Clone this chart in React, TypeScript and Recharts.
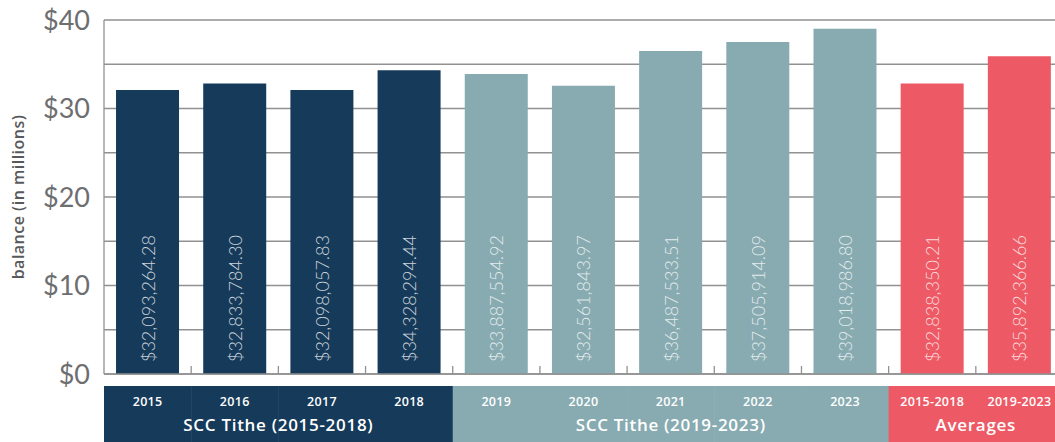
import { BarChart, Bar, XAxis, YAxis, CartesianGrid, Cell, LabelList } from 'recharts';

const categories = ['2015', '2016', '2017', '2018', '2019', '2020', '2021', '2022', '2023', '2015-2018', '2019-2023'];
const balances = [32.093, 32.834, 32.098, 34.328, 33.888, 32.562, 36.488, 37.506, 39.019, 32.838, 35.892];
const balanceLabels = [
  '$32,093,264.28',
  '$32,833,784.30',
  '$32,098,057.83',
  '$34,328,294.44',
  '$33,887,554.92',
  '$32,561,843.97',
  '$36,487,533.51',
  '$37,505,914.09',
  '$39,018,986.80',
  '$32,838,350.21',
  '$35,892,366.66',
];
const groupOf = [0, 0, 0, 0, 1, 1, 1, 1, 1, 2, 2];
const groupNames = ['SCC Tithe (2015-2018)', 'SCC Tithe (2019-2023)', 'Averages'];
const groupColors = ['#163a5a', '#87abb1', '#ed5964'];
const yTicks = [0, 5, 10, 15, 20, 25, 30, 35, 40];

const CHART_W = 1063;
const CHART_H = 442;
const Y_AXIS_W = 104;
const FONT = 'Lato, "Open Sans", sans-serif';
const BOLD_FONT = '"Open Sans", Lato, sans-serif';
const GRID = '#919191';

const data = categories.map((cat, i) => ({
  cat,
  value: balances[i],
  label: balanceLabels[i],
  group: groupOf[i],
}));

const bandW = (CHART_W - Y_AXIS_W) / categories.length;

const BandTick = (props: any) => {
  const { x, y, payload, index } = props;
  const g = groupOf[index];
  const groupSize = groupOf.filter((v) => v === g).length;
  const isLastInGroup = index === groupOf.length - 1 || groupOf[index + 1] !== g;
  return (
    <g>
      {index > 0 && (
        <line x1={x - bandW / 2} x2={x - bandW / 2} y1={y - 8} y2={y} stroke={GRID} strokeWidth={1.3} />
      )}
      <rect x={x - bandW / 2} y={y + 12} width={bandW + 0.5} height={56} fill={groupColors[g]} />
      <text
        x={x}
        y={y + 27}
        textAnchor="middle"
        dominantBaseline="central"
        fill="#fff"
        fontSize={12.5}
        fontWeight={600}
        letterSpacing={0.3}
        fontFamily={BOLD_FONT}
      >
        {payload.value}
      </text>
      {isLastInGroup && (
        <text
          x={x - ((groupSize - 1) / 2) * bandW}
          y={y + 50}
          textAnchor="middle"
          dominantBaseline="central"
          fill="#fff"
          fontSize={17}
          fontWeight={600}
          letterSpacing={0.7}
          fontFamily={BOLD_FONT}
        >
          {groupNames[g]}
        </text>
      )}
    </g>
  );
};

const BarValueLabel = (props: any) => {
  const { x, y, width, height, index } = props;
  const cx = x + width / 2;
  const cy = y + height - 12;
  return (
    <text
      x={cx}
      y={cy}
      transform={`rotate(-90, ${cx}, ${cy})`}
      textAnchor="start"
      dominantBaseline="central"
      fill="#fff"
      fillOpacity={0.78}
      fontSize={18}
      fontWeight={300}
      fontFamily={FONT}
    >
      {balanceLabels[index]}
    </text>
  );
};

const YLabel = (props: any) => {
  const { viewBox } = props;
  const cx = viewBox.x + 18;
  const cy = viewBox.y + viewBox.height / 2;
  return (
    <text
      x={cx}
      y={cy}
      transform={`rotate(-90, ${cx}, ${cy})`}
      textAnchor="middle"
      dominantBaseline="central"
      fill="#58595b"
      fontSize={16}
      fontWeight={600}
      letterSpacing={0.5}
      fontFamily={BOLD_FONT}
    >
      balance (in millions)
    </text>
  );
};

export default function App() {
  return (
    <div style={{ position: 'absolute', left: 0, top: 0, width: 1055, height: 442, overflow: 'hidden', background: '#fff' }}>
      <BarChart
        width={CHART_W}
        height={CHART_H}
        data={data}
        margin={{ top: 20, right: 0, left: 0, bottom: 0 }}
        barCategoryGap="13.8%"
      >
        <CartesianGrid vertical={false} stroke={GRID} strokeWidth={1.3} />
        <XAxis
          dataKey="cat"
          height={68}
          interval={0}
          tickLine={false}
          tickSize={0}
          tickMargin={0}
          axisLine={{ stroke: GRID, strokeWidth: 1.3 }}
          tick={<BandTick />}
        />
        <YAxis
          width={Y_AXIS_W}
          domain={[0, 40]}
          ticks={yTicks}
          interval={0}
          tickLine={false}
          tickSize={0}
          tickMargin={14}
          axisLine={{ stroke: GRID, strokeWidth: 1.3 }}
          tickFormatter={(v: number) => (v % 10 === 0 ? `$${v}` : '')}
          tick={{ fill: '#6d6e70', fontSize: 27, fontWeight: 400, fontFamily: FONT }}
          label={{ value: 'balance (in millions)', content: <YLabel /> }}
        />
        <Bar dataKey="value" isAnimationActive={false}>
          {data.map((d) => (
            <Cell key={d.cat} fill={groupColors[d.group]} />
          ))}
          <LabelList dataKey="label" content={<BarValueLabel />} />
        </Bar>
      </BarChart>
    </div>
  );
}
